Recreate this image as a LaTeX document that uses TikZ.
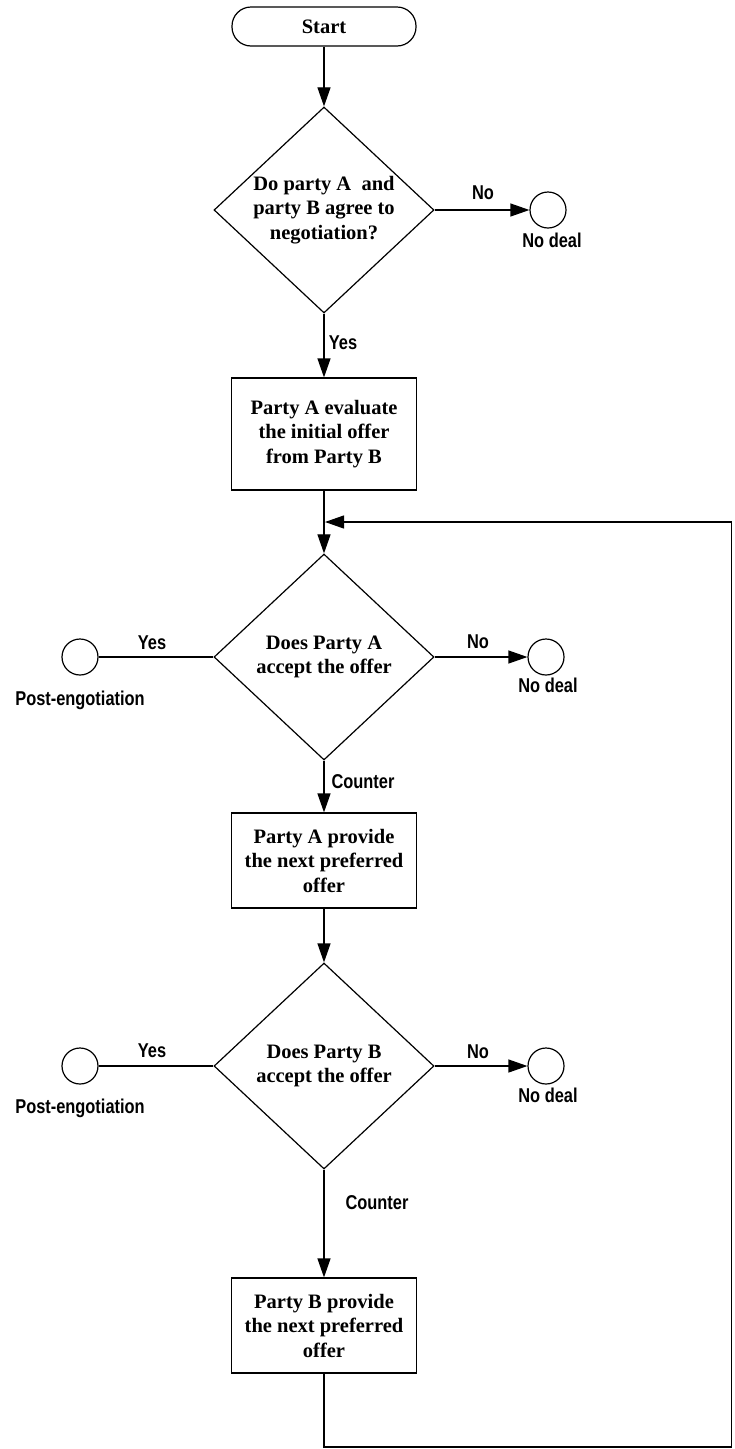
\documentclass[tikz,border=0pt]{standalone}
\usepackage{fontspec}
\setmainfont{Liberation Serif}
\newfontfamily\labfont[FakeStretch=0.82]{Liberation Sans}
\usetikzlibrary{shapes.geometric,arrows.meta}
\begin{document}
\begin{tikzpicture}[x=1pt,y=-1pt,
  line width=1.2pt,
  every node/.style={inner sep=0pt},
  flow/.style={-{Triangle[length=19pt,width=13pt]}},
  boxfont/.style={font=\bfseries\fontsize{20.5}{24.5}\selectfont},
  terminal/.style={draw,boxfont,rounded corners=19pt,minimum width=184pt,minimum height=39pt},
  process/.style={draw,boxfont,align=center,minimum width=185pt},
  decision/.style={draw,diamond,minimum width=220pt,minimum height=206pt},
  dtext/.style={boxfont,align=center},
  endpt/.style={draw,circle,minimum size=36pt},
  lab/.style={font=\labfont\bfseries\fontsize{20}{24}\selectfont}]

% page area
\path[fill=white,use as bounding box] (0,0) rectangle (734,1449);

% main column
\node[terminal] (start) at (324,26.5) {Start};

\node[decision] (d1) at (324,210) {};
\node[dtext] (d1t) at (d1) {Do party A\ \ and\\party B agree to\\negotiation?};
\node[endpt] (n1) at (548,210) {};

\node[process,minimum height=112pt] (p1) at (324,434) {Party A evaluate\\the initial offer\\from Party B};

\node[decision] (d2) at (324,657) {};
\node[dtext] (d2t) at (d2) {Does Party A\\accept the offer};
\node[endpt] (post1) at (80,657) {};
\node[endpt] (n2) at (546,657) {};

\node[process,minimum height=95pt] (p2) at (324,860.5) {Party A provide\\the next preferred\\offer};

\node[decision] (d3) at (324,1066) {};
\node[dtext] (d3t) at (d3) {Does Party B\\accept the offer};
\node[endpt] (post2) at (80,1066) {};
\node[endpt] (n3) at (546,1066) {};

\node[process,minimum height=95pt] (p3) at (324,1325.5) {Party B provide\\the next preferred\\offer};

% labels
\node[lab] (l1no) at (483,193) {No};
\node[lab] (l1nd) at (552,240) {No deal};
\node[lab] (l1yes) at (343,343) {Yes};

\node[lab] (l2yes) at (152,643) {Yes};
\node[lab] (l2post) at (80,700) {Post-engotiation};
\node[lab] (l2no) at (478,642) {No};
\node[lab] (l2nd) at (548,685) {No deal};
\node[lab] (l2ct) at (363,782) {Counter};

\node[lab] (l3yes) at (152,1051) {Yes};
\node[lab] (l3post) at (80,1108) {Post-engotiation};
\node[lab] (l3no) at (478,1052) {No};
\node[lab] (l3nd) at (548,1095) {No deal};
\node[lab] (l3ct) at (377,1203) {Counter};

% connectors
\draw[flow] (start) -- (d1);
\draw[flow] (d1) -- (n1);
\draw[flow] (d1) -- (p1);
\draw[flow] (p1) -- (d2);
\draw (post1) -- (d2);
\draw[flow] (d2) -- (n2);
\draw[flow] (d2) -- (p2);
\draw[flow] (p2) -- (d3);
\draw (post2) -- (d3);
\draw[flow] (d3) -- (n3);
\draw[flow] (d3) -- (p3);

% feedback loop back to Party A's decision
\coordinate (join) at (325,522);
\coordinate (corner) at (731.5,1447);
\draw[flow] (p3.south) |- (corner) |- (join);
\end{tikzpicture}
\end{document}
